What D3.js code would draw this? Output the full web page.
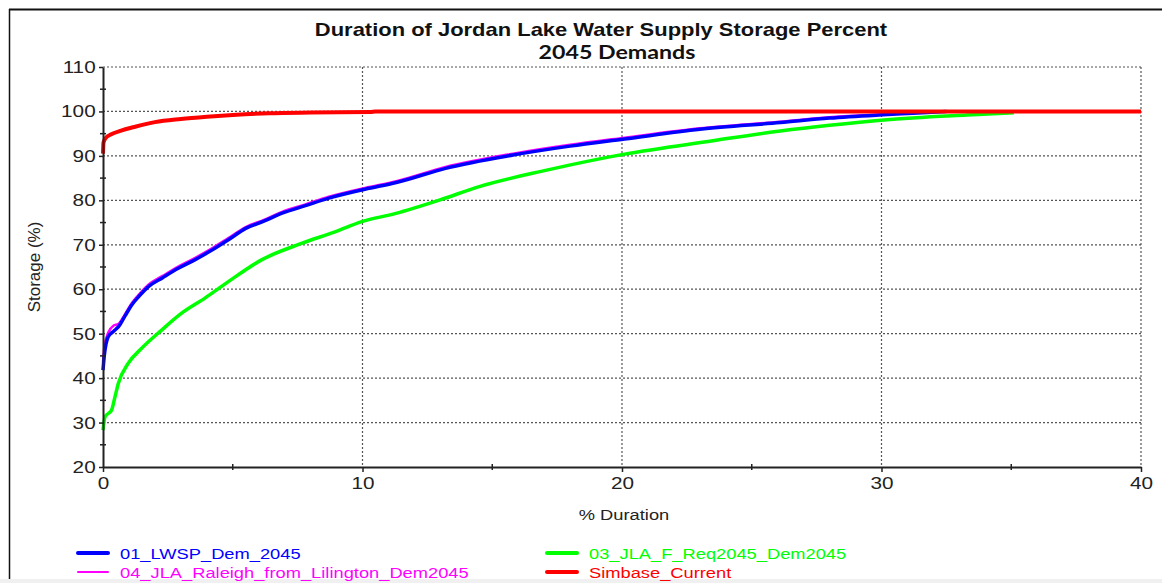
<!DOCTYPE html>
<html>
<head>
<meta charset="utf-8">
<script src="https://cdn.jsdelivr.net/npm/d3@7"></script>
<style>
  body { margin: 0; background: #fff; }
  svg { display: block; }
</style>
</head>
<body>
<script>
// duration (%) vs storage (%)
const lwspX = [0, 0.05, 0.2, 0.4, 0.6, 0.85, 1.1, 1.4, 1.75, 2.3, 2.9, 3.5, 4.2, 4.8, 5.5, 6.2, 6.9, 7.8, 8.7, 10.1, 11.3, 13.2, 15.8, 18, 20.1, 23, 26.1, 28, 29.9, 31.2, 32.5];
const lwspY = [41.8, 45, 49.3, 50.5, 51.6, 54, 56.4, 58.5, 60.6, 62.6, 64.7, 66.5, 68.8, 71, 73.7, 75.3, 77.1, 78.8, 80.5, 82.5, 84, 87.2, 90.2, 92.2, 93.8, 96, 97.5, 98.5, 99.2, 99.6, 100];

const raleighX = [0, 0.05, 0.2, 0.4, 0.6, 0.85, 1.1, 1.4, 1.75, 2.3, 2.9, 3.5, 4.2, 4.8, 5.5, 6.2, 6.9, 7.8, 8.7, 10.1, 11.3, 13.2, 15.8, 18, 20.1, 23, 26.1, 28, 29.9, 31.2, 32.5];
const raleighY = [43.5, 47, 50.2, 51.8, 52.2, 54.4, 56.8, 58.9, 61, 63, 65.1, 66.9, 69.2, 71.4, 74, 75.6, 77.4, 79.1, 80.8, 82.8, 84.3, 87.5, 90.5, 92.5, 94.1, 96.2, 97.7, 98.7, 99.3, 99.7, 100];

const jlaX = [0, 0.08, 0.33, 0.45, 0.59, 0.97, 1.49, 2.26, 3.03, 3.93, 4.83, 6.11, 7.65, 8.94, 9.97, 11.25, 12.99, 14.5, 17.1, 20.1, 23.5, 26.1, 28, 30.1, 33.3, 35.1];
const jlaY = [28.3, 31.3, 32.8, 35.5, 38.8, 43.3, 46.7, 50.8, 54.6, 58.0, 61.7, 66.6, 70.3, 72.9, 75.2, 77.0, 80.1, 83.1, 86.8, 90.4, 93.4, 95.6, 96.9, 98.1, 99.2, 99.7];

const simbaseX = [0, 0.02, 0.1, 0.3, 0.7, 1.2, 2, 3, 4, 5, 6.4, 8, 10.3, 10.5, 40];
const simbaseY = [90.5, 93, 94, 94.8, 95.7, 96.5, 97.6, 98.3, 98.8, 99.2, 99.6, 99.75, 99.85, 100, 100];

const seriesNames = ["01_LWSP_Dem_2045", "04_JLA_Raleigh_from_Lilington_Dem2045", "03_JLA_F_Req2045_Dem2045", "Simbase_Current"];
const xTicks = [0, 10, 20, 30, 40];
const yTicks = [20, 30, 40, 50, 60, 70, 80, 90, 100, 110];

const width = 1162;
const height = 583;
const plotLeft = 103;
const plotRight = 1141;
const plotTop = 67;
const plotBottom = 467;
const stretch = 1.22; // text in the reference is widened

const svg = d3
  .select("body")
  .append("svg")
  .attr("width", width)
  .attr("height", height);

// frame
svg.append("rect").attr("x", 0).attr("y", 579).attr("width", width).attr("height", 4).attr("fill", "#f0f0f0");
svg.append("line").attr("x1", 9).attr("x2", width).attr("y1", 9.5).attr("y2", 9.5).attr("stroke", "#111").attr("stroke-width", 2);
svg.append("line").attr("x1", 9.5).attr("x2", 9.5).attr("y1", 9).attr("y2", 579).attr("stroke", "#111").attr("stroke-width", 1.5);

const xScale = d3.scaleLinear().domain([0, 40]).range([plotLeft, plotRight]);
const yScale = d3.scaleLinear().domain([20, 110]).range([plotBottom, plotTop]);

const addText = (x, y, str, opts) => {
  const t = svg
    .append("text")
    .attr("transform", `translate(${x},${y}) scale(${opts.sx || stretch},1)`)
    .attr("text-anchor", opts.anchor || "middle")
    .attr("font-family", opts.family || "'Liberation Sans', Arial, sans-serif")
    .attr("font-size", opts.size)
    .attr("font-weight", opts.weight || "normal")
    .attr("fill", opts.color || "#222")
    .text(str);
  return t;
};

// title
addText(601, 36, "Duration of Jordan Lake Water Supply Storage Percent", { size: 18, weight: "bold", color: "#111" });
addText(617, 59, "2045 Demands", { size: 19, weight: "bold", color: "#111", family: "Lato, 'Open Sans', sans-serif" });

// grid
const grid = svg.append("g").attr("stroke", "#555").attr("stroke-width", 1.2).attr("stroke-dasharray", "2,2");
grid
  .selectAll("line.h")
  .data(yTicks.filter((d) => d > 20))
  .enter()
  .append("line")
  .attr("x1", plotLeft)
  .attr("x2", plotRight)
  .attr("y1", (d) => yScale(d))
  .attr("y2", (d) => yScale(d));
grid
  .selectAll("line.v")
  .data(xTicks.filter((d) => d > 0))
  .enter()
  .append("line")
  .attr("x1", (d) => xScale(d))
  .attr("x2", (d) => xScale(d))
  .attr("y1", plotTop)
  .attr("y2", plotBottom);

// series
const line = d3
  .line()
  .x((d) => xScale(d[0]))
  .y((d) => yScale(d[1]))
  .curve(d3.curveMonotoneX);

const series = [
  { xs: jlaX, ys: jlaY, color: "#00ff00", w: 3.5 },
  { xs: raleighX, ys: raleighY, color: "#ff00ff", w: 2.5 },
  { xs: lwspX, ys: lwspY, color: "#0000ff", w: 3.5 },
  { xs: simbaseX, ys: simbaseY, color: "#ff0000", w: 4 },
];

series.forEach((s) => {
  svg
    .append("path")
    .datum(s.xs.map((x, i) => [x, s.ys[i]]))
    .attr("fill", "none")
    .attr("stroke", s.color)
    .attr("stroke-width", s.w)
    .attr("stroke-linejoin", "round")
    .attr("d", line);
});

// axes
const yAxis = d3.axisLeft(yScale).tickValues(yTicks).tickSizeInner(4).tickSizeOuter(0).tickPadding(2);
const xAxis = d3.axisBottom(xScale).tickValues(xTicks).tickSizeInner(5).tickSizeOuter(0).tickPadding(5);

const gy = svg.append("g").attr("transform", `translate(${plotLeft},0)`).call(yAxis);
const gx = svg.append("g").attr("transform", `translate(0,${plotBottom})`).call(xAxis);

[gx, gy].forEach((g) => {
  g.select(".domain").attr("stroke", "#222").attr("stroke-width", 2);
  g.selectAll(".tick line").attr("stroke", "#222").attr("stroke-width", 1.5);
  g.selectAll(".tick text")
    .attr("font-family", "'Liberation Sans', Arial, sans-serif")
    .attr("font-size", 17)
    .attr("fill", "#222")
    .attr("transform", `scale(${stretch},1)`);
});

// minor ticks
svg
  .selectAll("line.minor-y")
  .data(d3.range(25, 110, 10))
  .enter()
  .append("line")
  .attr("x1", plotLeft - 3)
  .attr("x2", plotLeft + 3)
  .attr("y1", (d) => yScale(d))
  .attr("y2", (d) => yScale(d))
  .attr("stroke", "#222")
  .attr("stroke-width", 1.5);
svg
  .selectAll("line.minor-x")
  .data(d3.range(5, 40, 10))
  .enter()
  .append("line")
  .attr("x1", (d) => xScale(d))
  .attr("x2", (d) => xScale(d))
  .attr("y1", plotBottom - 3)
  .attr("y2", plotBottom + 3)
  .attr("stroke", "#222")
  .attr("stroke-width", 1.5);

// axis titles
addText(624, 520, "% Duration", { size: 15 });
svg
  .append("text")
  .attr("transform", "translate(40,267) rotate(-90)")
  .attr("text-anchor", "middle")
  .attr("font-family", "'Liberation Sans', Arial, sans-serif")
  .attr("font-size", 17)
  .attr("fill", "#222")
  .text("Storage (%)");

// legend
const legendItems = [
  { name: seriesNames[0], color: "#0000ff", w: 4, x: 78, y: 553 },
  { name: seriesNames[1], color: "#ff00ff", w: 2, x: 78, y: 572 },
  { name: seriesNames[2], color: "#00ff00", w: 4, x: 547, y: 553 },
  { name: seriesNames[3], color: "#ff0000", w: 4, x: 547, y: 572 },
];

legendItems.forEach((d) => {
  svg
    .append("line")
    .attr("x1", d.x)
    .attr("x2", d.x + 30)
    .attr("y1", d.y)
    .attr("y2", d.y)
    .attr("stroke", d.color)
    .attr("stroke-width", d.w)
    .attr("stroke-linecap", "round");
  addText(d.x + 42, d.y + 6, d.name, { size: 15, anchor: "start", color: d.color });
});
</script>
</body>
</html>
